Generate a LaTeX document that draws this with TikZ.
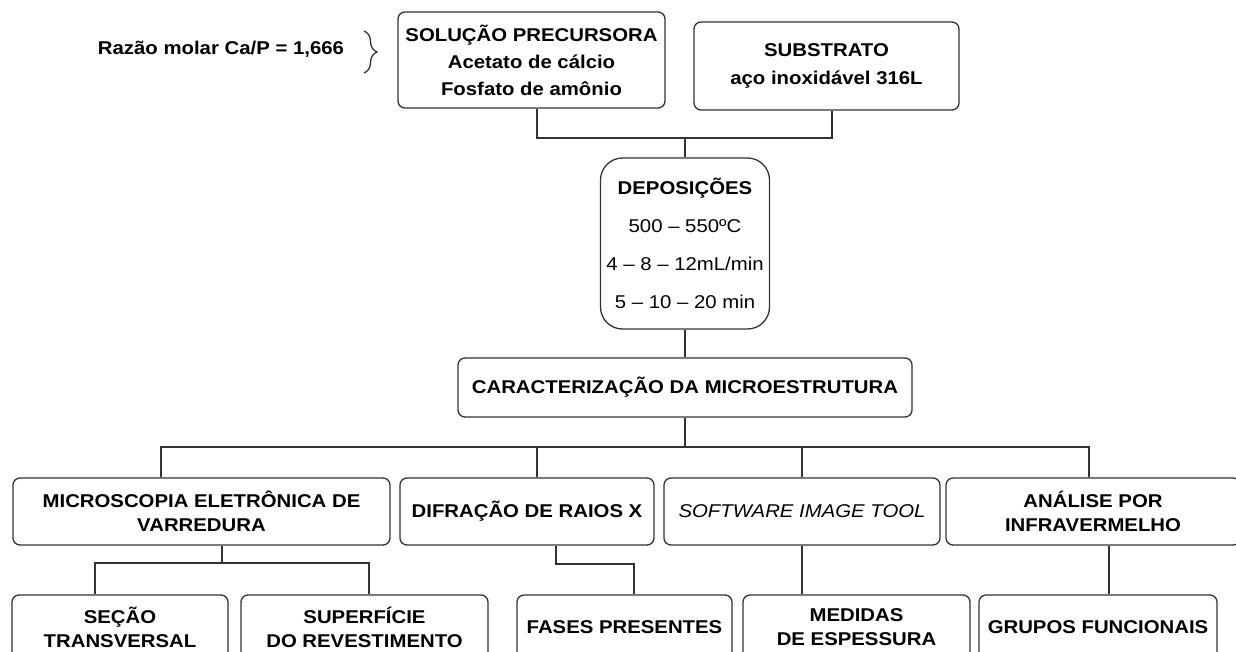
\documentclass[tikz,border=0pt]{standalone}
\usepackage{fontspec}
\setmainfont{Liberation Sans}[FakeStretch=1.1]
\usetikzlibrary{
  	positioning,
  	calc,
		decorations.pathreplacing
  }
\definecolor{tinta}{gray}{0.2}
\tikzset{
  caixa/.style={draw=tinta, text=black, line width=1.3pt, rounded corners=7pt, align=center,
    inner sep=0pt, font=\fontsize{18.5}{24}\selectfont\bfseries},
  liga/.style={draw=tinta, line width=1.3pt}
}

\begin{document}
\begin{tikzpicture}[x=1pt, y=-1pt]
	\path[use as bounding box] (0,0) rectangle (1236,651);
	\clip (0,0) rectangle (1236,651);
%
	\node[font=\fontsize{18.5}{24}\selectfont\bfseries] (razao) at (221,49) {Razão molar Ca/P = 1,666};
	\coordinate (chA) at (364,31);
	\coordinate (chB) at (364,73);
	\draw[liga, decorate, decoration={brace, amplitude=13pt}] (chA) -- (chB);
%
	\node[caixa, minimum width=267, minimum height=96, font=\fontsize{18.5}{27}\selectfont\bfseries] (sol) at (531.5,60)
	  {SOLUÇÃO PRECURSORA\\Acetato de cálcio\\Fosfato de amônio};
	\node[caixa, minimum width=265, minimum height=88, font=\fontsize{18.5}{28}\selectfont\bfseries] (sub) at (826.5,66)
	  {SUBSTRATO\\aço inoxidável 316L};
	\node[caixa, rounded corners=22pt, minimum width=169, minimum height=171, font=\fontsize{18.5}{38}\selectfont] (dep) at (685,243.5)
	  {\textbf{DEPOSIÇÕES}\\500 – 550ºC\\4 – 8 – 12mL/min\\5 – 10 – 20 min};
	\node[caixa, minimum width=454, minimum height=59] (car) at (685,387.5) {CARACTERIZAÇÃO DA MICROESTRUTURA};
%
	\node[caixa, minimum width=377, minimum height=67] (mev) at (201.5,511.5) {MICROSCOPIA ELETRÔNICA DE\\VARREDURA};
	\node[caixa, minimum width=254, minimum height=67] (dif) at (527,511.5) {DIFRAÇÃO DE RAIOS X};
	\node[caixa, minimum width=276, minimum height=67, font=\fontsize{18.5}{24}\selectfont\itshape] (sw) at (802,511.5) {SOFTWARE IMAGE TOOL};
	\node[caixa, minimum width=294, minimum height=67] (ana) at (1093,511.5) {ANÁLISE POR\\INFRAVERMELHO};
%
	\node[caixa, minimum width=216, minimum height=65] (sec) at (120,627.5) {SEÇÃO\\TRANSVERSAL};
	\node[caixa, minimum width=247, minimum height=65] (sup) at (364.5,627.5) {SUPERFÍCIE\\DO REVESTIMENTO};
	\node[caixa, minimum width=215, minimum height=65] (fas) at (624.5,627.5) {FASES PRESENTES};
	\node[caixa, minimum width=227, minimum height=65] (med) at (856.5,627.5) {MEDIDAS\\DE ESPESSURA};
	\node[caixa, minimum width=238, minimum height=65] (gru) at (1098,627.5) {GRUPOS FUNCIONAIS};
%
	\coordinate (topo) at (685,138);
	\draw[liga] ([xshift=5.5pt]sol.south) |- (topo) -| ([xshift=5.5pt]sub.south);
	\draw[liga] (topo) -- (dep.north);
	\draw[liga] (dep.south) -- (car.north);
%
	\coordinate (bus) at (685,447);
	\draw[liga] (car.south) -- (bus);
	\draw[liga] ([xshift=-40.5pt]mev.north) |- (bus) -| ([xshift=-4pt]ana.north);
	\draw[liga] ([xshift=10pt]dif.north) -- ([xshift=10pt]dif.north |- bus);
	\draw[liga] (sw.north) -- (sw.north |- bus);
%
	\coordinate (mevj) at (222,563);
	\draw[liga] (mev.south -| mevj) -- (mevj);
	\draw[liga] ([xshift=-25pt]sec.north) |- (mevj) -| ([xshift=4.5pt]sup.north);
	\coordinate (difj) at (556,564);
	\draw[liga] (dif.south -| difj) -- (difj) -| ([xshift=9.5pt]fas.north);
	\draw[liga] (sw.south) -- (sw.south |- med.north);
	\draw[liga] ([xshift=16pt]ana.south) -- ([xshift=16pt]ana.south |- gru.north);
\end{tikzpicture}
\end{document}
